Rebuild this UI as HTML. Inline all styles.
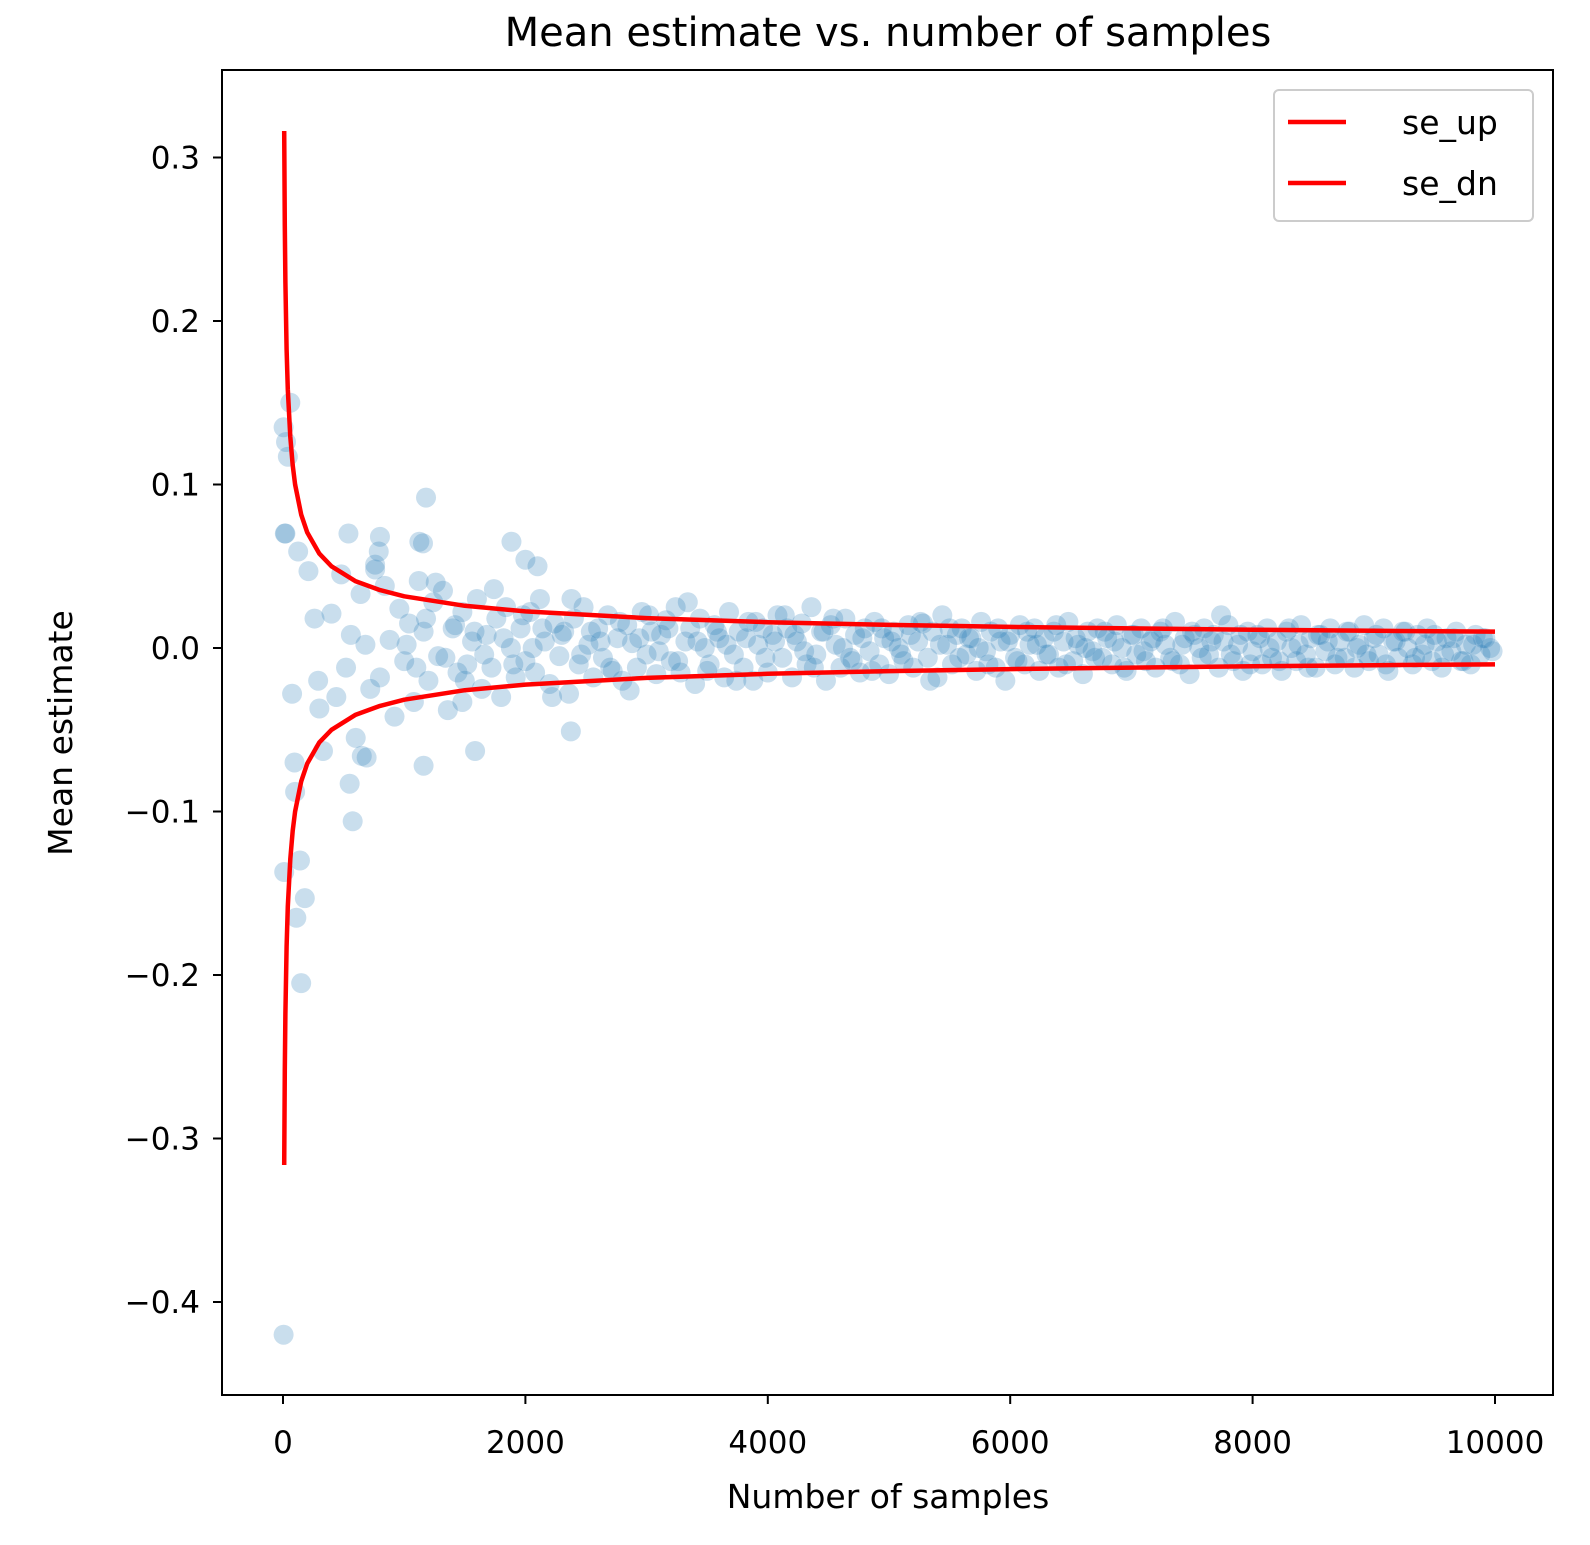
<!DOCTYPE html>
<html><head><meta charset="utf-8"><style>
html,body{margin:0;padding:0;background:#fff;}
svg{display:block;font-family:"DejaVu Sans","Liberation Sans",sans-serif;}
</style></head><body>
<svg id="chart" width="1590" height="1545" viewBox="0 0 1590 1545">
<rect width="1590" height="1545" fill="#fff"/>
<text x="888" y="46" font-size="40" text-anchor="middle">Mean estimate vs. number of samples</text>
<g id="points"></g>
<g id="lines"></g>
<g id="axes"></g>
<rect x="222" y="70" width="1331" height="1325" fill="none" stroke="#000" stroke-width="2"/>
<text x="888" y="1508" font-size="33" text-anchor="middle">Number of samples</text>
<text x="72" y="733" font-size="33" text-anchor="middle" transform="rotate(-90 72 733)">Mean estimate</text>
<g>
<rect x="1274" y="90" width="259" height="131" rx="5" fill="#fff" fill-opacity="0.8" stroke="#ccc" stroke-width="2"/>
<line x1="1288" y1="122" x2="1346" y2="122" stroke="#f00" stroke-width="4.5"/>
<text x="1402" y="134" font-size="33">se_up</text>
<line x1="1288" y1="183" x2="1346" y2="183" stroke="#f00" stroke-width="4.5"/>
<text x="1402" y="195" font-size="33">se_dn</text>
</g>
</svg>
<script>
const earlySamples=[5,5,10,15,20,25,40,60,75,95,100,180,110,150,140,125,210,260,300,290,575,540,550,330,760,800,790,650,690,1160,1125,1180,1155,1885,2100,2000,2375,1585,1480];
const earlyEstimates=[-0.42,0.135,-0.137,0.07,0.07,0.126,0.117,0.15,-0.028,-0.07,-0.088,-0.153,-0.165,-0.205,-0.13,0.059,0.047,0.018,-0.037,-0.02,-0.106,0.07,-0.083,-0.063,0.048,0.068,0.059,-0.066,-0.067,-0.072,0.065,0.092,0.064,0.065,0.05,0.054,-0.051,-0.063,-0.033];
const bulkSamples=[400,440,480,520,560,600,640,680,720,760,800,840,880,920,960,1000,1040,1080,1120,1160,1200,1240,1280,1320,1360,1400,1440,1480,1520,1560,1600,1640,1680,1720,1760,1800,1840,1880,1920,1960,2000,2040,2080,2120,2160,2200,2240,2280,2320,2360,2400,2440,2480,2520,2560,2600,2640,2680,2720,2760,2800,2840,2880,2920,2960,3000,3040,3080,3120,3160,3200,3240,3280,3320,3360,3400,3440,3480,3520,3560,3600,3640,3680,3720,3760,3800,3840,3880,3920,3960,4000,4040,4080,4120,4160,4200,4240,4280,4320,4360,4400,4440,4480,4520,4560,4600,4640,4680,4720,4760,4800,4840,4880,4920,4960,5000,5040,5080,5120,5160,5200,5240,5280,5320,5360,5400,5440,5480,5520,5560,5600,5640,5680,5720,5760,5800,5840,5880,5920,5960,6000,6040,6080,6120,6160,6200,6240,6280,6320,6360,6400,6440,6480,6520,6560,6600,6640,6680,6720,6760,6800,6840,6880,6920,6960,7000,7040,7080,7120,7160,7200,7240,7280,7320,7360,7400,7440,7480,7520,7560,7600,7640,7680,7720,7760,7800,7840,7880,7920,7960,8000,8040,8080,8120,8160,8200,8240,8280,8320,8360,8400,8440,8480,8520,8560,8600,8640,8680,8720,8760,8800,8840,8880,8920,8960,9000,9040,9080,9120,9160,9200,9240,9280,9320,9360,9400,9440,9480,9520,9560,9600,9640,9680,9720,9760,9800,9840,9880,9920,9960];
const bulkEstimates=[0.021,-0.03,0.045,-0.012,0.008,-0.055,0.033,0.002,-0.025,0.051,
-0.018,0.038,0.005,-0.042,0.024,-0.008,0.015,-0.033,0.041,0.01,
-0.02,0.028,-0.005,0.035,-0.038,0.012,-0.015,0.022,-0.01,0.004,
0.03,-0.025,0.008,-0.012,0.018,-0.03,0.025,0.0,-0.018,0.012,
-0.008,0.022,-0.015,0.03,0.004,-0.022,0.015,-0.005,0.01,-0.028,
0.018,-0.01,0.025,0.002,-0.018,0.012,-0.006,0.02,-0.014,0.006,
-0.02,0.014,0.003,-0.012,0.022,-0.004,0.01,-0.016,0.008,0.017,
-0.008,0.025,-0.015,0.004,0.012,-0.022,0.018,0.0,-0.01,0.014,
0.006,-0.018,0.022,-0.004,0.01,-0.012,0.016,-0.02,0.002,0.012,
-0.015,0.008,0.02,-0.006,0.012,-0.018,0.004,0.015,-0.01,0.025,
-0.004,0.01,-0.02,0.014,0.002,-0.012,0.018,-0.006,0.008,-0.015,
0.012,-0.002,0.016,-0.01,0.006,-0.016,0.01,0.0,-0.008,0.014,
-0.012,0.004,0.015,-0.006,0.01,-0.018,0.02,0.002,-0.01,0.008,
0.012,-0.004,0.006,-0.014,0.016,-0.002,0.01,-0.012,0.004,-0.02,
0.008,-0.006,0.014,-0.01,0.002,0.012,-0.014,0.006,-0.004,0.01,
-0.012,0.004,0.016,-0.008,0.002,-0.016,0.01,-0.002,0.012,-0.006,
0.006,-0.01,0.014,0.0,-0.014,0.008,-0.004,0.012,-0.008,0.004,
-0.012,0.01,0.002,-0.006,0.016,-0.01,0.006,-0.016,0.008,0.0,
0.012,-0.004,0.008,-0.012,0.004,0.014,-0.008,0.002,-0.014,0.01,
-0.002,0.008,-0.01,0.012,-0.006,0.004,-0.014,0.01,0.0,-0.008,
0.014,-0.004,0.006,-0.012,0.008,-0.002,0.012,-0.01,0.004,-0.006,
0.01,-0.012,0.002,0.014,-0.008,0.006,-0.004,0.012,-0.014,0.004,
-0.006,0.01,0.0,-0.01,0.008,-0.004,0.012,-0.008,0.004,-0.012,
0.006,-0.002,0.01,-0.008,0.002,-0.01,0.008,-0.004,0.006,0.0];
const extraSamples=[1020,1100,1180,1260,1340,1420,1500,1580,1660,1740,1820,1900,1980,2060,2140,2220,2300,2380,2460,2540,2620,2700,2780,2860,2940,3020,3100,3180,3260,3340,3420,3500,3580,3660,3740,3820,3900,3980,4060,4140,4220,4300,4380,4460,4540,4620,4700,4780,4860,4940,5020,5100,5180,5260,5340,5420,5500,5580,5660,5740,5820,5900,5980,6060,6140,6220,6300,6380,6460,6540,6620,6700,6780,6860,6940,7020,7100,7180,7260,7340,7420,7500,7580,7660,7740,7820,7900,7980,8060,8140,8220,8300,8380,8460,8540,8620,8700,8780,8860,8940,9020,9100,9180,9260,9340,9420,9500,9580,9660,9740,9820,9900,9980];
const extraEstimates=[0.002,-0.012,0.018,0.04,-0.006,0.014,-0.02,0.01,-0.004,0.036,
0.006,-0.01,0.02,0.0,0.012,-0.03,0.008,0.03,-0.004,0.01,
0.004,-0.012,0.016,-0.026,0.006,0.02,-0.002,0.012,-0.008,0.028,
0.004,-0.014,0.01,0.002,-0.02,0.006,0.016,-0.006,0.004,0.02,
0.008,-0.002,-0.012,0.01,0.018,0.0,-0.008,0.006,-0.014,0.012,
0.004,-0.004,0.008,0.016,-0.02,0.002,0.012,-0.006,0.006,0.0,
-0.01,0.012,0.004,-0.008,0.01,0.002,-0.004,0.014,-0.01,0.006,
0.0,-0.006,0.01,0.004,-0.012,0.008,-0.002,0.006,0.012,-0.008,
0.002,0.01,-0.006,0.004,0.02,-0.004,0.008,-0.01,0.006,0.0,
-0.008,0.012,0.002,-0.012,0.008,0.004,-0.006,0.01,0.0,-0.004,
0.008,-0.01,0.004,0.01,-0.006,0.002,0.008,-0.004,0.006,-0.008,0.002,0.006,-0.002];
const seSamples=[10,15,20,30,40,60,80,100,150,200,300,400,600,800,1000,1500,2000,3000,4000,5000,6000,7000,8000,9000,10000];
const seUp=[0.3162,0.2582,0.2236,0.1826,0.1581,0.1291,0.1118,0.1,0.0816,0.0707,0.0577,0.05,0.0408,0.0354,0.0316,0.0258,0.0224,0.0183,0.0158,0.0141,0.0129,0.012,0.0112,0.0105,0.01];
const seDn=[-0.3162,-0.2582,-0.2236,-0.1826,-0.1581,-0.1291,-0.1118,-0.1,-0.0816,-0.0707,-0.0577,-0.05,-0.0408,-0.0354,-0.0316,-0.0258,-0.0224,-0.0183,-0.0158,-0.0141,-0.0129,-0.012,-0.0112,-0.0105,-0.01];
const xTicks=[0,2000,4000,6000,8000,10000];
const yTicks=[0.3,0.2,0.1,0.0,-0.1,-0.2,-0.3,-0.4];
const yTickLabels=["0.3","0.2","0.1","0.0","\u22120.1","\u22120.2","\u22120.3","\u22120.4"];

const NS="http://www.w3.org/2000/svg";
function xs(n){return 283+n*0.1212;}
function ys(v){return 648-v*1635;}
function mk(tag,attrs,parent){const e=document.createElementNS(NS,tag);for(const k in attrs)e.setAttribute(k,attrs[k]);parent.appendChild(e);return e;}

const pg=document.getElementById('points');
function drawPts(sa,ea){for(let i=0;i<sa.length;i++){
  const c=mk('circle',{cx:xs(sa[i]),cy:ys(ea[i]),r:10,fill:'#1f77b4','fill-opacity':0.24},pg);
  
  
}}
drawPts(earlySamples,earlyEstimates);
drawPts(bulkSamples,bulkEstimates);
drawPts(extraSamples,extraEstimates);

const lg=document.getElementById('lines');
function drawLine(vals,name){
  const d=seSamples.map((n,i)=>(i?'L':'M')+xs(n).toFixed(1)+' '+ys(vals[i]).toFixed(1)).join(' ');
  const p=mk('path',{d:d,fill:'none',stroke:'#f00','stroke-width':4.5,'stroke-linejoin':'round'},lg);
  
  
}
drawLine(seUp,'se-up-line');
drawLine(seDn,'se-dn-line');

const ag=document.getElementById('axes');
xTicks.forEach(t=>{
  const l=mk('line',{x1:xs(t),x2:xs(t),y1:1395,y2:1404,stroke:'#000','stroke-width':2},ag);
  
  
  const tx=mk('text',{x:xs(t),y:1453,'font-size':31,'text-anchor':'middle'},ag);
  tx.textContent=String(t);
  
  
});
yTicks.forEach((t,i)=>{
  const l=mk('line',{x1:213,x2:222,y1:ys(t),y2:ys(t),stroke:'#000','stroke-width':2},ag);
  
  
  const tx=mk('text',{x:200,y:ys(t)+11,'font-size':31,'text-anchor':'end'},ag);
  tx.textContent=yTickLabels[i];
  
  
});
</script>
</body></html>
